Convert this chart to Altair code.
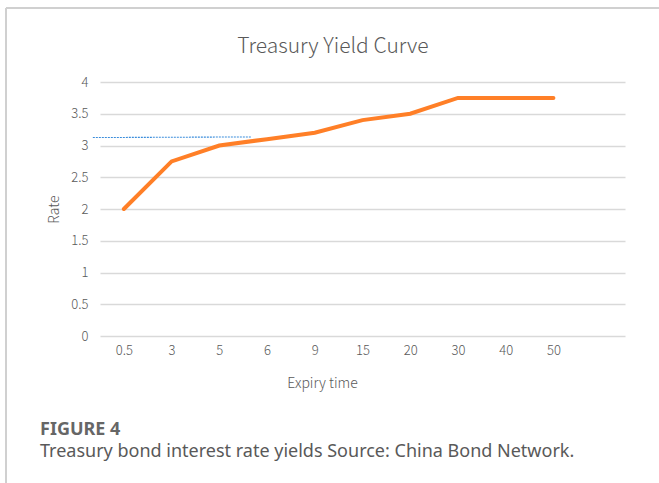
import json
import altair as alt
import pandas as pd

# ---- data ----
expiry = ["0.5", "3", "5", "6", "9", "15", "20", "30", "40", "50"]
rate = [2.0, 2.75, 3.0, 3.1, 3.2, 3.4, 3.5, 3.75, 3.75, 3.75]

# thin blue dashed segment (x in category-index units)
blue_x = [-0.65, 2.66]
blue_y = [3.125, 3.135]

y_ticks = [0, 0.5, 1, 1.5, 2, 2.5, 3, 3.5, 4]

title_text = "Treasury Yield Curve"
x_title = "Expiry time"
y_title = "Rate"
fig_label = "FIGURE 4"
caption = "Treasury bond interest rate yields Source: China Bond Network."

FONT = "Noto Sans CJK SC"
CAP_FONT = "Noto Sans"
GRAY = "#595959"

df = pd.DataFrame({"idx": list(range(len(expiry))), "expiry": expiry, "rate": rate})
blue_df = pd.DataFrame({"idx": blue_x, "rate": blue_y})

label_expr = "(" + json.dumps(expiry) + ")[datum.value] || ''"

x_enc = alt.X(
    "idx:Q",
    scale=alt.Scale(domain=[-0.5, len(expiry) + 0.5], nice=False, zero=False),
    axis=alt.Axis(
        values=list(range(len(expiry))),
        labelExpr=label_expr,
        labelOverlap=False,
        grid=False,
        domain=False,
        ticks=False,
        labelPadding=8,
        labelFontSize=13,
        labelColor=GRAY,
        labelFont=FONT,
        labelFontWeight=300,
        title=x_title,
        titleFontSize=14,
        titleColor=GRAY,
        titleFont=FONT,
        titleFontWeight=300,
        titlePadding=19,
        titleX=222,
        titleAnchor="start",
        titleAlign="center",
    ),
)

y_enc = alt.Y(
    "rate:Q",
    scale=alt.Scale(domain=[0, 4], nice=False),
    axis=alt.Axis(
        values=y_ticks,
        format="~g",
        labelOverlap=False,
        grid=True,
        gridColor="#d9d9d9",
        gridWidth=1.5,
        domain=False,
        ticks=False,
        labelPadding=12,
        labelFontSize=13,
        labelColor=GRAY,
        labelFont=FONT,
        labelFontWeight=300,
        title=y_title,
        titleFontSize=14,
        titleColor=GRAY,
        titleFont=FONT,
        titleFontWeight=300,
        titlePadding=9,
    ),
)

line = alt.Chart(df).mark_line(color="#ff7f27", strokeWidth=4, strokeCap="round").encode(
    x=x_enc, y=y_enc
)

blue = alt.Chart(blue_df).mark_line(
    color="#3b8ddb", strokeWidth=1.1, strokeDash=[2, 1], clip=False
).encode(x=x_enc, y=y_enc)

one = pd.DataFrame({"t": [0]})

frame_top = alt.Chart(one).mark_rule(color="#d0d0d0", strokeWidth=2).encode(
    x=alt.value(-94), x2=alt.value(570), y=alt.value(-74)
)
frame_left = alt.Chart(one).mark_rule(color="#d0d0d0", strokeWidth=2).encode(
    x=alt.value(-94), y=alt.value(-74), y2=alt.value(410)
)

title_txt = alt.Chart(pd.DataFrame({"t": [title_text]})).mark_text(
    align="center", baseline="middle", font=FONT, fontSize=21, fontWeight=300, color=GRAY
).encode(x=alt.value(233), y=alt.value(-35), text="t:N")

fig_txt = alt.Chart(pd.DataFrame({"t": [fig_label]})).mark_text(
    align="left", baseline="middle", font=CAP_FONT, fontSize=18, fontWeight="bold", color="#666666"
).encode(x=alt.value(-60), y=alt.value(348), text="t:N")

cap_txt = alt.Chart(pd.DataFrame({"t": [caption]})).mark_text(
    align="left", baseline="middle", font=CAP_FONT, fontSize=18, color=GRAY
).encode(x=alt.value(-60), y=alt.value(370), text="t:N")

chart = (
    alt.layer(frame_top, frame_left, line, blue, title_txt, fig_txt, cap_txt)
    .properties(
        width=525,
        height=254,
        background="white",
        padding={"left": 100, "top": 82, "right": 34, "bottom": 147},
        autosize=alt.AutoSizeParams(type="none"),
    )
    .configure_view(strokeWidth=0)
)

chart.save("out.html", embed_options={"renderer": "svg", "actions": False})
